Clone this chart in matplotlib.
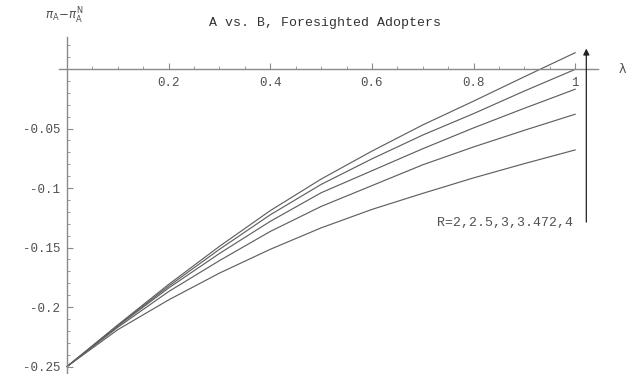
import matplotlib
matplotlib.use('Agg')
import matplotlib.pyplot as plt
from matplotlib.ticker import FixedLocator, FixedFormatter
import numpy as np

# data
lam = [0.0, 0.1, 0.2, 0.3, 0.4, 0.5, 0.6, 0.7, 0.8, 0.9, 1.0]
curves = [
    [-0.25, -0.215, -0.181, -0.149, -0.119, -0.0925, -0.069, -0.047, -0.027, -0.0065, 0.0137],
    [-0.25, -0.2155, -0.1825, -0.1515, -0.1225, -0.097, -0.0755, -0.0555, -0.0375, -0.0185, -0.0003],
    [-0.25, -0.216, -0.184, -0.155, -0.128, -0.104, -0.0855, -0.067, -0.0495, -0.033, -0.017],
    [-0.25, -0.217, -0.187, -0.161, -0.1365, -0.1155, -0.098, -0.0805, -0.0655, -0.0515, -0.038],
    [-0.25, -0.219, -0.194, -0.1715, -0.1515, -0.1335, -0.118, -0.1045, -0.0915, -0.0795, -0.068],
]
xticks = [0.2, 0.4, 0.6, 0.8, 1.0]
xticklabels = ['0.2', '0.4', '0.6', '0.8', '1']
yticks = [-0.25, -0.2, -0.15, -0.1, -0.05]
yticklabels = ['-0.25', '-0.2', '-0.15', '-0.1', '-0.05']

MONO = 'Liberation Mono'
LINE = '#606060'
AXIS = '#8a8a8a'
TXT = '#505050'

fig = plt.figure(figsize=(6.29, 3.74), dpi=100)
ax = fig.add_axes([0, 0, 1, 1])
ax.set_xlim(-0.132, 1.106)
ax.set_ylim(-0.2563, 0.058)

for c in curves:
    ax.plot(lam, c, color=LINE, lw=0.85)

# Mathematica style axes crossing at origin
for s in ['top', 'right']:
    ax.spines[s].set_visible(False)
ax.spines['bottom'].set_position(('data', 0))
ax.spines['left'].set_position(('data', 0))
ax.spines['bottom'].set_bounds(-0.015, 1.045)
ax.spines['left'].set_bounds(-0.2563, 0.027)
for s in ['bottom', 'left']:
    ax.spines[s].set_color(AXIS)
    ax.spines[s].set_linewidth(1.0)

ax.xaxis.set_major_locator(FixedLocator(xticks))
ax.xaxis.set_major_formatter(FixedFormatter(xticklabels))
ax.xaxis.set_minor_locator(FixedLocator(np.arange(0.05, 1.01, 0.05)))
ax.yaxis.set_major_locator(FixedLocator(yticks))
ax.yaxis.set_major_formatter(FixedFormatter(yticklabels))
ax.yaxis.set_minor_locator(FixedLocator(np.arange(-0.25, 0.025, 0.01)))

ax.tick_params(which='both', direction='in', color=AXIS, labelcolor=TXT,
               labelsize=9)
ax.tick_params(which='major', length=4, width=0.8)
ax.tick_params(which='minor', length=2.5, width=0.6)
ax.tick_params(axis='x', pad=6)
ax.tick_params(axis='y', pad=5)
for lab in ax.get_xticklabels() + ax.get_yticklabels():
    lab.set_family(MONO)

# axis labels and title
ax.text(-0.006, 0.045, r'$\pi_{\rm A}\!-\!\pi_{\rm A}^{\rm N}$', fontsize=8.5,
        color=TXT, ha='center', va='center')
ax.text(1.0925, 0.0, '\u03bb', fontsize=9, color=TXT, ha='center', va='center')
ax.text(0.508, 0.039, 'A vs. B, Foresighted Adopters', family=MONO,
        fontsize=9.5, color='#333333', ha='center', va='center')

# arrow showing increasing R
ax.annotate('', xy=(1.022, 0.0195), xytext=(1.022, -0.131),
            arrowprops=dict(arrowstyle='-|>', color='#222222', lw=0.9,
                            mutation_scale=9))
ax.text(0.995, -0.129, 'R=2,2.5,3,3.472,4', family=MONO, fontsize=9.5,
        color=TXT, ha='right', va='center')

fig.savefig('out.png', dpi=100, facecolor='white')
